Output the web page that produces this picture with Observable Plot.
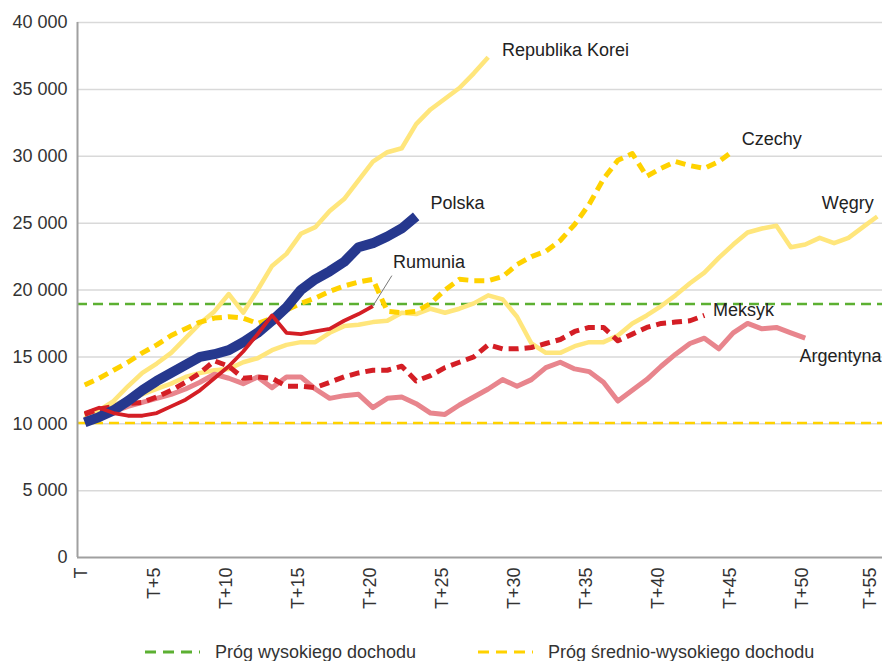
<!DOCTYPE html>
<html><head><meta charset="utf-8">
<script src="https://cdn.jsdelivr.net/npm/d3@7"></script>
<script src="https://cdn.jsdelivr.net/npm/@observablehq/plot@0.6"></script>
<style>
body{margin:0;background:#fff;font-family:"Liberation Sans",Arial,sans-serif;}
#wrap{position:relative;width:882px;height:661px;overflow:hidden;}
.leg{position:absolute;top:640px;height:24px;font-size:18px;color:#333;display:flex;align-items:center;white-space:nowrap;}
.leg svg{margin-right:15px;}
</style></head><body><div id="wrap"><div id="chart"></div></div>
<script>
// ---- data (index 0 = T, 1 = T+1, ...) ----
const korea = [10400, 11000, 11700, 12800, 13800, 14500, 15300, 16400, 17500, 18400, 19700, 18300, 20000, 21800, 22700, 24200, 24700, 25900, 26800, 28200, 29600, 30300, 30600, 32400, 33500, 34300, 35100, 36200, 37400];
const czechy = [12900, 13400, 14000, 14600, 15300, 15900, 16600, 17100, 17600, 17900, 18000, 17900, 17500, 17900, 18500, 19000, 19400, 19900, 20300, 20600, 20800, 18400, 18300, 18400, 19000, 20000, 20800, 20700, 20700, 21000, 21900, 22500, 22900, 23700, 24900, 26400, 28300, 29700, 30200, 28500, 29100, 29600, 29300, 29100, 29600, 30400];
const wegry = [10600, 11000, 11400, 11800, 12200, 12600, 13000, 13500, 13800, 14000, 14100, 14600, 14900, 15500, 15900, 16100, 16100, 16800, 17300, 17400, 17600, 17700, 18300, 18200, 18600, 18300, 18600, 19000, 19600, 19300, 18000, 16000, 15300, 15300, 15800, 16100, 16100, 16600, 17500, 18100, 18800, 19600, 20500, 21300, 22400, 23400, 24300, 24600, 24800, 23200, 23400, 23900, 23500, 23900, 24700, 25500];
const polska = [10100, 10500, 11000, 11700, 12500, 13200, 13800, 14400, 15000, 15200, 15500, 16100, 16800, 17700, 18700, 20000, 20800, 21400, 22100, 23200, 23500, 24000, 24600, 25500];
const rumunia = [10800, 11200, 10800, 10600, 10600, 10800, 11300, 11800, 12500, 13400, 14300, 15400, 16700, 18100, 16800, 16700, 16900, 17100, 17700, 18200, 18800];
const meksyk = [10700, 11100, 11300, 11500, 11600, 12000, 12500, 13100, 13800, 14700, 14300, 13400, 13500, 13400, 12800, 12800, 12700, 13100, 13500, 13800, 14000, 14000, 14300, 13200, 13600, 14200, 14600, 15000, 15900, 15600, 15600, 15700, 16000, 16300, 16900, 17200, 17200, 16200, 16700, 17200, 17500, 17600, 17700, 18100];
const argentyna = [10300, 10600, 10900, 11300, 11600, 11900, 12200, 12600, 13100, 13700, 13400, 13000, 13500, 12700, 13500, 13500, 12600, 11900, 12100, 12200, 11200, 11900, 12000, 11500, 10800, 10700, 11400, 12000, 12600, 13300, 12800, 13300, 14200, 14600, 14100, 13900, 13100, 11700, 12500, 13300, 14300, 15200, 16000, 16400, 15600, 16800, 17500, 17100, 17200, 16800, 16400];
const highIncome = 18950;
const upperMiddleIncome = 10050;
const yTicks = [0, 5000, 10000, 15000, 20000, 25000, 30000, 35000, 40000];
const xTicks = [0, 5, 10, 15, 20, 25, 30, 35, 40, 45, 50, 55];
const legendLabels = ["Próg wysokiego dochodu", "Próg średnio-wysokiego dochodu"];

// ---- annotations (label anchor positions in data units) ----
const labelsStart = [
  {name: "Republika Korei", i: 28.95, v: 37900},
  {name: "Czechy", i: 45.6, v: 31300},
  {name: "Polska", i: 24.0, v: 26500},
  {name: "Rumunia", i: 21.4, v: 22100},
  {name: "Meksyk", i: 43.6, v: 18450},
  {name: "Argentyna", i: 49.6, v: 15050}
];
const labelsEnd = [{name: "Węgry", i: 54.75, v: 26450}];
const rLast = rumunia.length - 1;
const leader = [{i: rLast, v: rumunia[rLast]}, {i: rLast + 1.3, v: rumunia[rLast] + 2250}];

const ser = arr => arr.map((v, i) => ({i, v}));
const fmt = d => d === 0 ? "0" : d3.format(",")(d).replace(/,/g, "\u00a0");
const lineOpt = {x: "i", y: "v", strokeLinecap: "butt", strokeLinejoin: "round"};

const chart = Plot.plot({
  width: 882,
  height: 625,
  marginLeft: 77,
  marginRight: 0,
  marginTop: 22,
  marginBottom: 68,
  style: {fontFamily: "'Liberation Sans', Arial, sans-serif", fontSize: "18px", color: "#333", background: "#fff", overflow: "visible"},
  x: {domain: [-0.5, 55.5], range: [77, 884], ticks: xTicks, tickFormat: d => d === 0 ? "T" : "T+" + d, tickRotate: -90, tickSize: 0, tickPadding: 10, label: null},
  y: {domain: [0, 40000], range: [557, 22], ticks: yTicks, tickFormat: fmt, tickSize: 0, tickPadding: 10, label: null},
  marks: [
    Plot.ruleY(yTicks.filter(d => d > 0), {stroke: "#d9d9d9", strokeWidth: 1.5}),
    Plot.ruleY([highIncome], {stroke: "#5cb032", strokeWidth: 2.5, strokeDasharray: "10,6"}),
    Plot.ruleY([upperMiddleIncome], {stroke: "#ffd200", strokeWidth: 2.5, strokeDasharray: "10,6"}),
    Plot.ruleX([-0.5], {stroke: "#a0a0a0", strokeWidth: 2}),
    Plot.ruleY([0], {stroke: "#a0a0a0", strokeWidth: 2}),
    Plot.line(ser(wegry), {...lineOpt, stroke: "#ffe67c", strokeWidth: 4.5}),
    Plot.line(ser(korea), {...lineOpt, stroke: "#ffe67c", strokeWidth: 4.5}),
    Plot.line(ser(czechy), {...lineOpt, stroke: "#ffd200", strokeWidth: 5, strokeDasharray: "10,6"}),
    Plot.line(ser(argentyna), {...lineOpt, stroke: "#e8858d", strokeWidth: 5}),
    Plot.line(ser(meksyk), {...lineOpt, stroke: "#d41e25", strokeWidth: 5, strokeDasharray: "10,6"}),
    Plot.line(ser(polska), {...lineOpt, stroke: "#26388e", strokeWidth: 10}),
    Plot.line(ser(rumunia), {...lineOpt, stroke: "#d41e25", strokeWidth: 3.8}),
    Plot.line(leader, {x: "i", y: "v", stroke: "#777", strokeWidth: 1}),
    Plot.text(labelsStart, {x: "i", y: "v", text: "name", textAnchor: "start", fill: "#222", fontSize: 18}),
    Plot.text(labelsEnd, {x: "i", y: "v", text: "name", textAnchor: "end", fill: "#222", fontSize: 18})
  ]
});
// nudge the rotated x tick labels slightly left, as in the reference
chart.querySelectorAll('g[aria-label^="x-axis"]').forEach(g => {
  const t = g.getAttribute("transform") || "";
  g.setAttribute("transform", (t + " translate(-3,0)").trim());
});
// keep the last label inside the picture
chart.querySelectorAll("text").forEach(t => {
  if (t.textContent === "T+55") {
    const tr = t.getAttribute("transform") || "";
    t.setAttribute("transform", ("translate(-4,0) " + tr).trim());
  }
});
document.getElementById("chart").appendChild(chart);

// ---- legend ----
const wrap = document.getElementById("wrap");
const legendItems = [
  {label: legendLabels[0], color: "#5cb032", left: 145},
  {label: legendLabels[1], color: "#ffd200", left: 478}
];
legendItems.forEach(it => {
  const d = document.createElement("div");
  d.className = "leg";
  d.style.left = it.left + "px";
  d.innerHTML = `<svg width="55" height="24"><line x1="0" x2="55" y1="12" y2="12" stroke="${it.color}" stroke-width="3" stroke-dasharray="11,7"/></svg><span>${it.label}</span>`;
  wrap.appendChild(d);
});
</script>
</body></html>
